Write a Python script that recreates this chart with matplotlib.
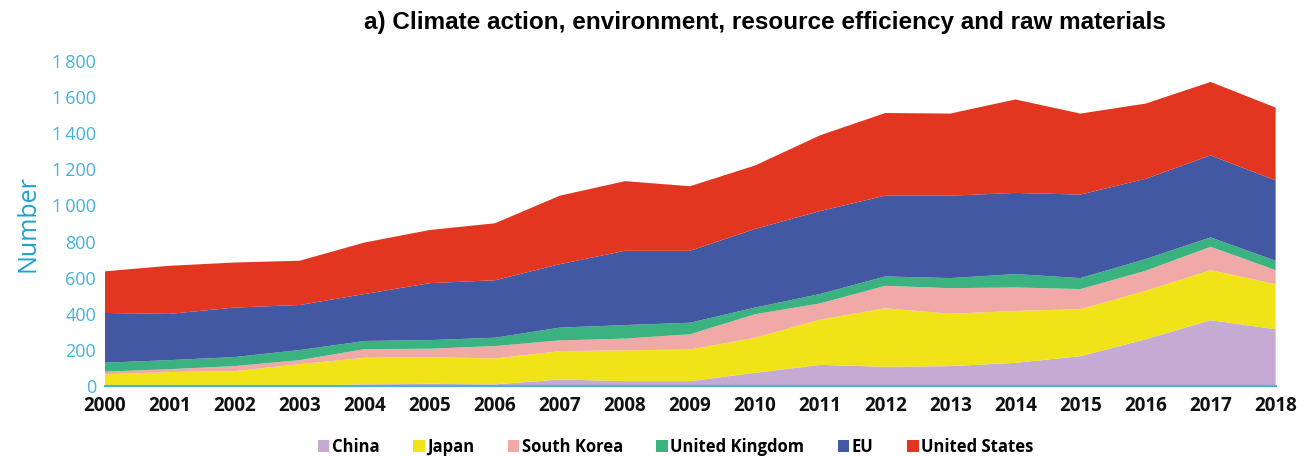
import matplotlib.pyplot as plt
import numpy as np
from matplotlib.patches import Patch
from matplotlib.ticker import FuncFormatter

# patents per year
years = list(range(2000, 2019))
china = [3, 3, 3, 3, 10, 13, 10, 37, 28, 28, 74, 118, 107, 111, 129, 166, 259, 365, 315]
japan = [62, 75, 80, 119, 147, 148, 143, 157, 170, 175, 194, 250, 324, 290, 287, 260, 268, 277, 249]
south_korea = [15, 16, 28, 22, 48, 46, 69, 59, 65, 84, 130, 90, 124, 141, 130, 111, 111, 129, 78]
united_kingdom = [50, 50, 50, 56, 45, 48, 46, 71, 75, 64, 37, 52, 52, 56, 74, 61, 65, 52, 52]
eu = [275, 256, 274, 249, 260, 315, 318, 351, 411, 398, 435, 459, 447, 456, 449, 462, 444, 454, 444]
united_states = [230, 266, 249, 245, 285, 294, 315, 379, 385, 357, 351, 419, 457, 454, 517, 448, 416, 406, 403]

labels = ["China", "Japan", "South Korea", "United Kingdom", "EU", "United States"]
colors = ["#c5abd3", "#f0e419", "#f1a9a8", "#3bb380", "#4358a3", "#e23620"]
cyan = "#45b3dc"

plt.rcParams['font.family'] = ['Open Sans', 'DejaVu Sans']

fig = plt.figure(figsize=(13.07, 4.57), dpi=100)
ax = fig.add_axes([0.080, 0.155, 0.896, 0.712])

ax.stackplot(years, china, japan, south_korea, united_kingdom, eu, united_states,
             colors=colors, linewidth=0)

ax.set_xlim(2000, 2018)
ax.set_ylim(0, 1800)
ax.set_xticks(years)
ax.set_yticks(np.arange(0, 1801, 200))
ax.yaxis.set_major_formatter(FuncFormatter(lambda v, p: f"{int(v):,}".replace(",", "\u2009")))

for s in ["top", "right", "left"]:
    ax.spines[s].set_visible(False)
ax.spines["bottom"].set_color(cyan)
ax.spines["bottom"].set_linewidth(1.5)
ax.tick_params(axis="both", length=0)
ax.tick_params(axis="x", pad=7, labelsize=13.5, labelcolor="#111111")
ax.tick_params(axis="y", pad=6, labelsize=13, labelcolor=cyan)
for t in ax.get_xticklabels():
    t.set_fontweight("bold")

ax.set_ylabel("Number", color="#1fa3cf", fontsize=18, labelpad=8)

fig.text(0.585, 0.950, "a) Climate action, environment, resource efficiency and raw materials",
         ha="center", va="center", fontsize=17.5, fontweight="bold",
         family=["Liberation Sans", "DejaVu Sans"])

handles = [Patch(facecolor=c, edgecolor="none") for c in colors]
fig.legend(handles, labels, loc="center", bbox_to_anchor=(0.517, 0.022), ncol=6,
           frameon=False, handlelength=0.7, handleheight=0.7, handletextpad=0.15,
           columnspacing=2.0, prop={"size": 12, "weight": "bold"})

fig.savefig("out.png", dpi=100)
